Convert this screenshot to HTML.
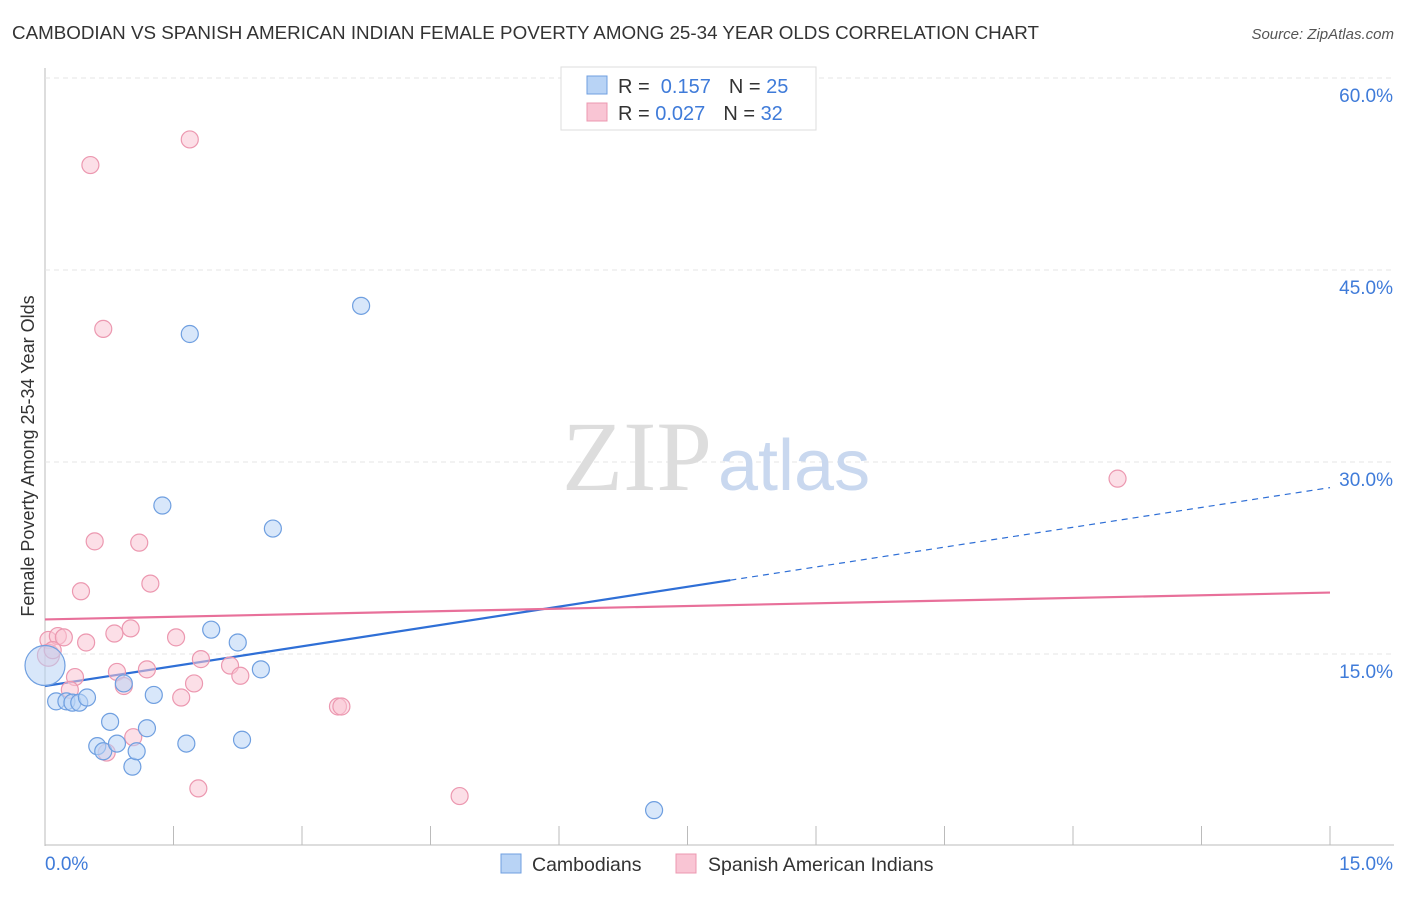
<!DOCTYPE html>
<html><head><meta charset="utf-8"><style>
body{margin:0;background:#fff;font-family:"Liberation Sans",sans-serif}
svg text{font-family:"Liberation Sans",sans-serif}
</style></head><body>
<svg width="1406" height="892" viewBox="0 0 1406 892">
<text x="12" y="39" font-size="18.8" fill="#333">CAMBODIAN VS SPANISH AMERICAN INDIAN FEMALE POVERTY AMONG 25-34 YEAR OLDS CORRELATION CHART</text>
<text x="1394" y="39" font-size="15" fill="#555" font-style="italic" text-anchor="end">Source: ZipAtlas.com</text>
<g id="grid"></g>
<text x="712" y="490" font-size="100" fill="#ddd" text-anchor="end" style="font-family:'Liberation Serif',serif">ZIP</text>
<text x="718" y="490" font-size="72" fill="#c9d8ef">atlas</text>
<text transform="translate(34,456) rotate(-90)" font-size="18" fill="#333" text-anchor="middle">Female Poverty Among 25-34 Year Olds</text>
<g id="lines"></g>
<g id="pts"></g>
<g>
<rect x="561" y="67" width="255" height="63" fill="#fff" stroke="#ddd"/>
<rect x="587" y="76" width="20" height="18" fill="#b8d3f5" stroke="#6f9fe0"/>
<rect x="587" y="103" width="20" height="18" fill="#f9c5d4" stroke="#ec98b0"/>
<text x="618" y="93" font-size="20" fill="#333">R = <tspan fill="#3f7bd9">&#160;0.157</tspan><tspan dx="18">N = </tspan><tspan fill="#3f7bd9">25</tspan></text>
<text x="618" y="120" font-size="20" fill="#333">R = <tspan fill="#3f7bd9">0.027</tspan><tspan dx="18">N = </tspan><tspan fill="#3f7bd9">32</tspan></text>
</g>
<g>
<rect x="501" y="854" width="20" height="19" fill="#b8d3f5" stroke="#6f9fe0"/>
<text x="532" y="871" font-size="19.5" fill="#333">Cambodians</text>
<rect x="676" y="854" width="20" height="19" fill="#f9c5d4" stroke="#ec98b0"/>
<text x="708" y="871" font-size="19.5" fill="#333">Spanish American Indians</text>
</g>
</svg>
<script>
const xTicks=[0,1.5,3,4.5,6,7.5,9,10.5,12,13.5,15];
const yTicks=[15,30,45,60];
const yTickLabels=["15.0%","30.0%","45.0%","60.0%"];
const xEndLabels=["0.0%","15.0%"];
const blueX=[0,0.13,0.25,0.32,0.40,0.49,0.76,0.61,0.68,0.84,1.02,1.07,1.19,1.27,1.37,1.65,1.69,1.94,2.25,2.30,2.52,2.66,3.69,7.11,0.92];
const blueY=[14.1,11.3,11.3,11.2,11.2,11.6,9.7,7.8,7.4,8.0,6.2,7.4,9.2,11.8,26.6,8.0,40.0,16.9,15.9,8.3,13.8,24.8,42.2,2.8,12.7];
const pinkX=[0.04,0.15,0.22,0.04,0.09,0.35,0.29,0.42,0.53,0.58,0.48,0.68,0.81,0.84,0.92,1.00,1.03,0.72,1.10,1.19,1.23,1.53,1.59,1.69,1.74,1.79,1.82,2.16,2.28,3.42,3.46,4.84,12.52];
const pinkY=[16.1,16.4,16.3,14.9,15.3,13.2,12.2,19.9,53.2,23.8,15.9,40.4,16.6,13.6,12.5,17.0,8.5,7.3,23.7,13.8,20.5,16.3,11.6,55.2,12.7,4.5,14.6,14.1,13.3,10.9,10.9,3.9,28.7];
const blueTrend=[12.5,28.0];
const blueSolidEnd=8.0;
const pinkTrend=[17.7,19.8];
const NS='http://www.w3.org/2000/svg';
const X=v=>45+v*1285/15;
const Y=v=>846-v*192/15;
function mk(tag,attrs,parent){const e=document.createElementNS(NS,tag);for(const k in attrs)e.setAttribute(k,attrs[k]);parent.appendChild(e);return e;}
const grid=document.getElementById('grid');
let e=mk('line',{x1:45,y1:68,x2:45,y2:846,stroke:'#bbb'},grid);

e=mk('line',{x1:45,y1:845,x2:1394,y2:845,stroke:'#bbb'},grid);

xTicks.forEach((t,i)=>{if(i===0)return;const l=mk('line',{x1:X(t),y1:826,x2:X(t),y2:845,stroke:'#bbb'},grid);
});
yTicks.forEach((t,i)=>{const l=mk('line',{x1:45,y1:Y(t),x2:1394,y2:Y(t),stroke:'#e4e4e4','stroke-dasharray':'5,4'},grid);

const tx=mk('text',{x:1393,y:Y(t)+24,'font-size':19,fill:'#3f7bd9','text-anchor':'end'},grid);tx.textContent=yTickLabels[i];
});
let t0=mk('text',{x:45,y:870,'font-size':19,fill:'#3f7bd9'},grid);t0.textContent=xEndLabels[0];

let t1=mk('text',{x:1393,y:870,'font-size':19,fill:'#3f7bd9','text-anchor':'end'},grid);t1.textContent=xEndLabels[1];

const pts=document.getElementById('pts');
function dot(x,y,r,fill,stroke,name){const c=mk('circle',{cx:X(x),cy:Y(y),r:r,fill:fill,'fill-opacity':0.55,stroke:stroke,'stroke-width':1.2},pts);
}
pinkX.forEach((x,i)=>dot(x,pinkY[i],i===3?11:8.5,'#f9c5d4','#ec98b0','spanish-american-indian-point'));
blueX.forEach((x,i)=>dot(x,blueY[i],i===0?20:8.5,'#b8d3f5','#6f9fe0','cambodian-point'));
const lines=document.getElementById('lines');
const by=x=>blueTrend[0]+(blueTrend[1]-blueTrend[0])*x/15;
let a=mk('line',{x1:X(0),y1:Y(blueTrend[0]),x2:X(blueSolidEnd),y2:Y(by(blueSolidEnd)),stroke:'#2f6fd6','stroke-width':2.2},lines);

a=mk('line',{x1:X(blueSolidEnd),y1:Y(by(blueSolidEnd)),x2:X(15),y2:Y(blueTrend[1]),stroke:'#2f6fd6','stroke-width':1.2,'stroke-dasharray':'6,5'},lines);

a=mk('line',{x1:X(0),y1:Y(pinkTrend[0]),x2:X(15),y2:Y(pinkTrend[1]),stroke:'#e8709a','stroke-width':2.2},lines);

</script>
</body></html>
